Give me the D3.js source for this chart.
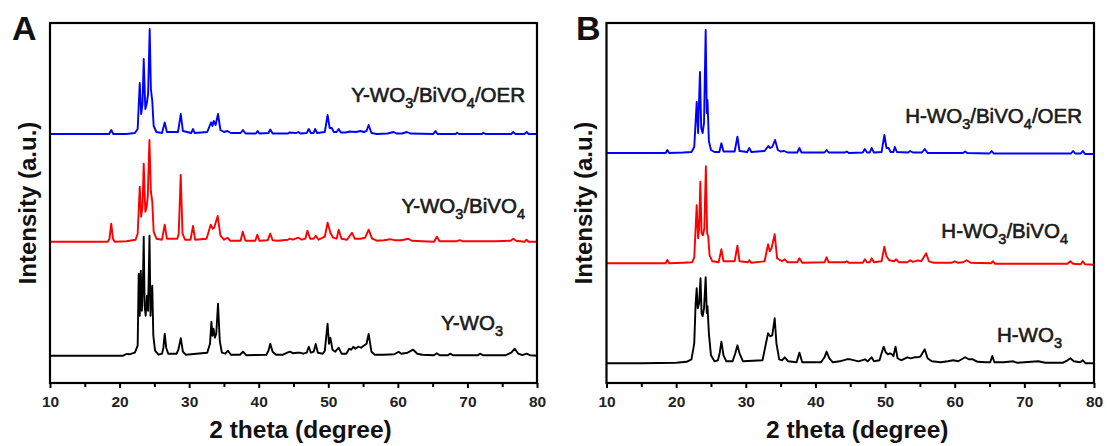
<!DOCTYPE html>
<html><head><meta charset="utf-8">
<script src="https://cdn.jsdelivr.net/npm/d3@7"></script>
<style>
html,body{margin:0;padding:0;background:#fff;}
svg text{font-family:Arial,"Liberation Sans",sans-serif;}
</style>
</head><body>
<svg id="c" width="1107" height="446"></svg>
<script>
// ---------- data (2θ in degrees, intensity in a.u. above each trace's own baseline) ----------
const xTicks = [10,20,30,40,50,60,70,80];
const panelLetters = ["A","B"];
const xTitle = "2 theta (degree)";
const yTitle = "Intensity (a.u.)";

// vertical offsets (a.u.) of stacked traces
const offsetsA = [27.3, 141.3, 249];     // Y-WO3, Y-WO3/BiVO4, Y-WO3/BiVO4/OER
const offsetsB = [19.7, 119.7, 230];     // H-WO3, H-WO3/BiVO4, H-WO3/BiVO4/OER
const seriesColors = ["#000000","#ff0000","#0000ff"];

const labelsA = [["Y-WO","3",""],["Y-WO","3","/BiVO","4",""],["Y-WO","3","/BiVO","4","/OER"]];
const labelsB = [["H-WO","3",""],["H-WO","3","/BiVO","4",""],["H-WO","3","/BiVO","4","/OER"]];

const yWO3 = [[10,0],[20.5,0],[21,1.7],[21.5,1.5],[22.2,3],[22.6,10],[22.75,82],[22.9,40],[23.05,85],[23.2,45],[23.35,70],[23.47,119],[23.6,50],[23.75,40],[23.95,60],[24.1,45],[24.3,120],[24.45,40],[24.55,55],[24.7,70],[24.85,20],[25.1,5],[25.6,1],[26.1,2],[26.3,8],[26.49,22],[26.7,8],[27,2],[28.2,2],[28.45,6],[28.8,17.5],[29.1,4],[29.5,1],[32.6,3],[33.0,12],[33.2,34],[33.35,20],[33.5,27],[33.7,18],[33.9,22],[34.15,52],[34.4,15],[34.7,3],[35.2,2],[35.58,5],[36,1],[37.3,1],[37.74,4],[38.2,0.5],[41.1,1],[41.4,5],[41.66,12],[42,4],[42.5,1],[43.5,1],[44.1,3],[44.5,4],[44.9,2.5],[45.5,3],[45.9,3],[46.4,2],[46.9,3],[47.2,9],[47.5,3],[47.9,4],[48.2,11.7],[48.5,3],[49.2,2],[49.5,5],[49.9,32],[50.1,12],[50.3,18],[50.6,6],[51,4],[51.5,8],[51.9,2],[52.6,2],[53.0,7],[53.3,6],[53.6,9],[53.9,7],[54.3,9],[54.7,8],[55.1,10],[55.5,12],[55.8,21.7],[56.2,4],[56.7,1],[58,1],[59.5,1.5],[60.1,4],[60.5,2],[61.4,3],[62.2,6],[62.8,2],[63.5,1],[65.2,0.5],[65.6,2.5],[66,0.5],[67.2,0.5],[67.5,2],[67.9,0.5],[71.5,0.5],[71.8,2],[72.2,0.5],[75.5,0.5],[76.3,3],[76.8,7],[77.3,2],[77.9,0.5],[78.5,2],[79,0.5],[80,0]];

const yWO3BiVO4 = [[10,0],[18.3,0],[18.55,3],[18.8,18],[19.05,3],[19.3,0],[21,0.5],[22.3,2],[22.6,8],[22.9,55],[23.1,25],[23.3,35],[23.47,78],[23.7,30],[23.9,35],[24.05,45],[24.29,101.7],[24.5,50],[24.7,40],[24.9,10],[25.3,3],[26.1,2],[26.49,17],[26.8,3],[28.3,3],[28.5,8],[28.79,66.7],[29.05,8],[29.4,2],[30.2,2],[30.56,15.7],[30.85,2],[32.5,3],[33.1,17],[33.4,13],[33.6,14],[34.1,25.7],[34.5,6],[35,2],[35.5,4],[35.9,1],[37.4,1],[37.7,10],[38.1,1],[39.5,1],[39.8,7],[40.1,1],[41.3,1.5],[41.66,8],[42,1.5],[42.8,1],[44.2,2],[44.5,3],[44.9,2],[45.7,4],[46.2,2],[46.7,3],[47.0,11],[47.4,3],[47.9,3],[48.2,6],[48.6,2],[49.5,5],[49.9,19],[50.3,9],[50.7,4],[51.2,3],[51.5,12],[51.9,3],[52.7,2],[53.4,9],[53.8,3],[54.6,3],[55.3,4],[55.8,12],[56.3,3],[57,1],[58,1.5],[58.9,2.5],[59.5,1.5],[60.5,1.5],[61.5,3],[62,1],[63.5,0.5],[65.2,0],[65.6,5],[66,0.5],[68.5,0.5],[68.9,1.5],[69.3,0.5],[72,0.5],[74,0.5],[76.2,1],[76.6,3],[77,1],[78.2,0],[78.5,2],[78.8,0],[80,0]];

const yWO3BiVO4OER = [[10,0],[18.5,0],[18.8,4],[19.1,0],[21,0],[22.2,1],[22.6,5],[22.9,51],[23.1,20],[23.3,30],[23.47,75],[23.7,25],[23.9,30],[24.1,40],[24.33,105],[24.5,45],[24.7,33],[24.9,8],[25.3,2],[26.1,1],[26.49,11.6],[26.8,2],[28.4,2],[28.8,20],[29.1,3],[30.3,1],[30.56,5],[30.8,1],[32.6,2],[33.15,11.6],[33.35,8],[33.53,13],[33.8,9],[34.15,20],[34.5,4],[35,2],[35.5,3],[36,1],[37.4,1],[37.74,4],[38.1,0.5],[39.6,0.5],[39.84,3],[40.1,0.5],[41.4,1],[41.66,4.5],[42,0.5],[44.2,0.5],[44.4,1.5],[45.4,1],[45.7,2],[46,0.5],[46.9,1],[47.2,5],[47.5,1],[47.9,1],[48.1,5],[48.4,1],[49.5,2],[49.9,19],[50.2,6],[50.5,6],[50.8,2],[51.2,2],[51.5,5],[51.8,1.5],[52.5,1.5],[53.1,2.5],[54,2],[54.6,3],[55.1,2],[55.5,3],[55.8,9],[56.2,1],[57,0],[58.5,0.5],[59.4,2],[59.8,0.5],[60.6,0.5],[61.3,2],[61.8,0.5],[65.1,0],[65.4,3],[65.7,0],[68.3,0],[68.5,1.2],[68.8,0],[72.1,0],[72.3,1.2],[72.6,0],[76.3,0],[76.6,2],[76.9,0],[78.2,0],[78.5,2],[78.8,0],[80,0]];

const hWO3 = [[10,0],[15,0],[20,0.5],[21.5,1.5],[22.2,4],[22.6,20],[22.8,60],[22.95,75],[23.1,55],[23.3,60],[23.5,85],[23.65,50],[23.8,47],[24.0,55],[24.24,86],[24.4,50],[24.5,57],[24.7,30],[25,8],[25.5,2],[26,3],[26.25,10],[26.5,21.7],[26.8,8],[27.2,2],[28.1,2],[28.5,10],[28.8,18],[29.1,10],[29.6,2],[32.4,3],[32.9,20],[33.2,30],[33.5,27],[33.8,28],[34.15,45],[34.4,20],[34.8,4],[35.2,3],[35.6,6],[36.1,2],[37.3,1],[37.7,10.7],[38.1,1],[40.8,1],[41.3,6],[41.6,11.7],[42,5],[42.5,1],[43.5,2],[44,3],[44.5,4],[45,4],[45.6,3],[46.2,2],[47.1,4],[47.5,2],[48.07,6],[48.4,2],[49.2,3],[49.5,10],[49.8,16.7],[50.1,11],[50.4,9],[50.7,10],[51,9],[51.2,7],[51.5,16.7],[51.8,5],[52.3,3],[53.2,6],[53.7,5],[54.2,6],[54.7,6],[55.1,7],[55.7,14],[56.1,5],[56.7,2],[58,1],[59,2],[59.8,3],[60.5,2],[61.5,6],[62,4],[62.6,4],[63.3,1.5],[64.5,1],[65.1,1],[65.4,7.3],[65.7,1],[67,1],[68.4,2],[69,0.5],[72,2],[73,0.5],[75.5,0.5],[76.2,3],[76.6,5],[77.1,2],[78,1],[78.4,3],[78.8,0],[80,0]];

const hWO3BiVO4 = [[10,0],[18.5,0],[18.73,3.3],[19,0],[21,0.5],[22.3,1],[22.6,6],[22.95,58],[23.15,25],[23.3,35],[23.47,81.6],[23.65,30],[23.85,28],[24.05,35],[24.27,97],[24.45,30],[24.6,27],[24.8,8],[25.2,2],[26.1,1],[26.5,14],[26.8,2],[28.4,2],[28.8,17.6],[29.1,2],[30.3,1],[30.5,3],[30.8,0.5],[32.7,2],[33.2,19],[33.45,12],[33.7,15],[34.15,29],[34.5,5],[35.2,2],[35.6,4],[36,1],[37.4,1],[37.7,5],[38.1,0.5],[41.3,1],[41.6,6],[41.9,1],[44.2,1],[44.5,2],[44.8,0.5],[46.8,0.5],[47.1,4],[47.4,1],[47.8,1],[48.07,5],[48.4,1],[49.5,2],[49.9,16.7],[50.2,7],[50.6,3],[51.3,2],[51.6,4],[52,1],[53.2,1],[53.6,3],[54,1.5],[54.7,3],[55.2,2],[55.9,10],[56.3,2],[57,0.5],[59.5,0.5],[60,2],[60.5,0.5],[61.2,1],[61.7,3],[62.3,0.5],[65.2,0],[65.5,2],[65.8,-0.5],[70,-0.5],[76.2,-0.5],[76.6,2],[77,-0.5],[78.1,-1],[78.4,2],[78.7,-1],[80,-1.5]];

const hWO3BiVO4OER = [[10,0],[18.5,0],[18.73,3],[19,0],[21,0.5],[22.2,1],[22.6,6],[22.95,51],[23.15,20],[23.42,81],[23.6,25],[23.8,20],[24.0,30],[24.24,123],[24.4,40],[24.5,53],[24.7,12],[25,3],[25.5,1],[26.2,1],[26.5,9.7],[26.8,1.5],[28.4,1.5],[28.8,16.3],[29.1,2],[30.2,1],[30.5,5],[30.8,1],[32.7,2],[33.23,7],[33.5,5],[33.8,6],[34.2,13],[34.6,3],[35,1.5],[35.5,2],[36,0.5],[37.4,0.5],[37.7,5],[38,0.5],[41.3,0.5],[41.6,3],[41.9,0.5],[44.2,0.5],[44.5,1.5],[44.8,0],[46.8,0.5],[47.1,4],[47.4,0.5],[47.8,0.5],[48.07,5],[48.4,0.5],[49.5,1],[49.9,18],[50.2,5],[50.5,5],[50.8,1],[51.2,1],[51.4,6],[51.7,1],[53.3,0.5],[53.6,2],[54,0.5],[55.3,0.5],[55.7,4],[56.1,0],[61.2,0],[61.5,1.5],[61.8,0],[65,-0.5],[65.3,2],[65.6,-0.5],[70,-0.5],[76.7,-0.5],[77,2],[77.3,-0.5],[78.1,-0.5],[78.4,2],[78.7,-1],[80,-1]];

const seriesA = [yWO3, yWO3BiVO4, yWO3BiVO4OER];
const seriesB = [hWO3, hWO3BiVO4, hWO3BiVO4OER];

// ---------- drawing ----------
const svg = d3.select("#c");
const panels = [
  {letter: panelLetters[0], x0: 50, x1: 537, series: seriesA, offsets: offsetsA, labels: labelsA,
   labelPos: [[503,330],[525,213],[525,102]], letterX: 12, ytx: 36},
  {letter: panelLetters[1], x0: 606.5, x1: 1094, series: seriesB, offsets: offsetsB, labels: labelsB,
   labelPos: [[1062,341.5],[1068,238],[1082,123.3]], letterX: 576, ytx: 592}
];
const yTop = 23, yBot = 383;

panels.forEach(p => {
  const g = svg.append("g");
  const x = d3.scaleLinear().domain([10,80]).range([p.x0, p.x1]);
  const y = d3.scaleLinear().domain([0,360]).range([yBot, yTop]);

  // traces
  p.series.forEach((s, i) => {
    const line = d3.line().x(d => x(d[0])).y(d => y(d[1] + p.offsets[i]));
    g.append("path").datum(s).attr("d", line)
      .attr("fill","none").attr("stroke", seriesColors[i])
      .attr("stroke-width", 1.9).attr("stroke-linejoin","round");
  });

  // x axis with minor ticks
  const minor = d3.range(15, 80, 10);
  g.append("g").attr("transform", `translate(0,${yBot})`)
    .call(d3.axisBottom(x).tickValues(minor).tickSize(4).tickFormat(""))
    .call(a => a.select(".domain").remove())
    .call(a => a.selectAll("line").attr("stroke","#000").attr("stroke-width",2));
  const ax = g.append("g").attr("transform", `translate(0,${yBot})`)
    .call(d3.axisBottom(x).tickValues(xTicks).tickSize(5).tickPadding(8).tickFormat(d3.format("d")));
  ax.select(".domain").remove();
  ax.selectAll("line").attr("stroke","#000").attr("stroke-width",2);
  ax.selectAll("text").attr("font-size",15.5).attr("font-weight","bold").attr("fill","#222")
    .attr("font-family","Arial, 'Liberation Sans', sans-serif");

  // frame
  g.append("rect").attr("x", p.x0).attr("y", yTop).attr("width", p.x1 - p.x0).attr("height", yBot - yTop)
    .attr("fill","none").attr("stroke","#000").attr("stroke-width",2.2);

  // series labels
  p.labels.forEach((parts, i) => {
    const t = g.append("text").attr("x", p.labelPos[i][0]).attr("y", p.labelPos[i][1])
      .attr("text-anchor","end").attr("font-size",20.5).attr("fill","#1a1a1a")
      .attr("stroke","#1a1a1a").attr("stroke-width",0.6);
    parts.forEach((str, k) => {
      if (str === "") return;
      const sub = k % 2 === 1;
      const ts = t.append("tspan").text(str);
      if (sub) ts.attr("font-size",14.5).attr("dy",6);
      else if (k > 0) ts.attr("dy",-6);
    });
  });

  // panel letter
  g.append("text").attr("x", p.letterX).attr("y", 40).attr("font-size",34).attr("font-weight","bold")
    .attr("fill","#111").text(p.letter);

  // axis titles
  g.append("text").attr("x", (p.x0 + p.x1)/2 + 7).attr("y", 438).attr("text-anchor","middle")
    .attr("font-size",24.5).attr("font-weight","bold").attr("fill","#111").text(xTitle);
  g.append("text").attr("transform", `translate(${p.ytx},203) rotate(-90)`).attr("text-anchor","middle")
    .attr("font-size",24).attr("font-weight","bold").attr("fill","#111").text(yTitle);
});
</script>
</body></html>
